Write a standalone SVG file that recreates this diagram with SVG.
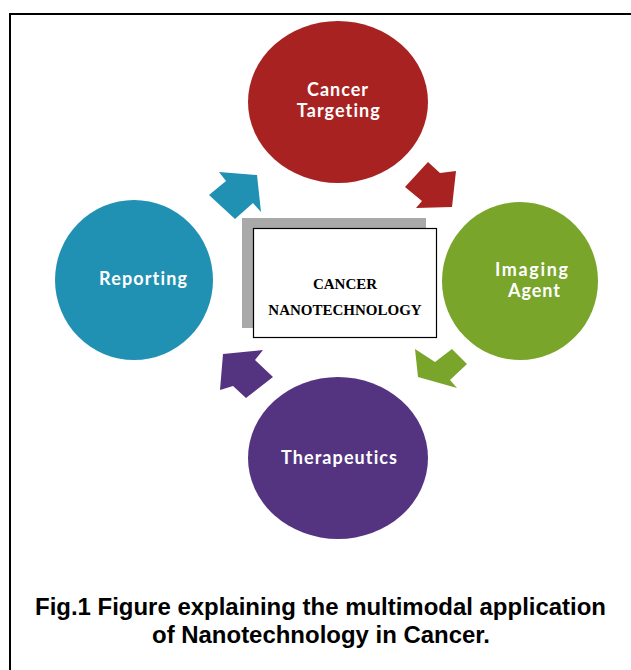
<svg xmlns="http://www.w3.org/2000/svg" width="631" height="670" viewBox="0 0 631 670">
<style>
.lbl{font-family:Lato,"Open Sans","Liberation Sans",sans-serif;font-weight:bold;font-size:18px;fill:#ffffff;text-anchor:middle;font-variant-ligatures:none;font-feature-settings:"liga" 0}
.ctr{font-family:"Liberation Serif","Times New Roman",serif;font-weight:bold;font-size:15px;fill:#000000;text-anchor:middle}
.cap{font-family:"Liberation Sans",Arial,sans-serif;font-weight:bold;font-size:23px;fill:#000000;text-anchor:middle}
</style>
<rect x="0" y="0" width="631" height="670" fill="#ffffff"/>
<rect id="frame" x="10" y="14" width="640" height="700" fill="none" stroke="#000000" stroke-width="2"/>
<g id="connectors">
  <polygon fill="#2191B3" points="219,172 257,175 261,212 253,203 235,219 209,195 226,181"/>
  <polygon fill="#A82222" points="428,162 440,173 456,171 452,207 416,208 422,201 405,187"/>
  <polygon fill="#79A52B" points="415,349 435,362 452,349 467,364 450,380 457,388 418,377"/>
  <polygon fill="#543480" points="223,354 263,350 255,360 273,377 246,398 233,386 220,390"/>
</g>
<g id="center">
  <rect x="242" y="218" width="184" height="110" fill="#A9A9A9"/>
  <rect x="253.5" y="228.5" width="183" height="109" fill="#ffffff" stroke="#000000" stroke-width="1.2"/>
  <text class="ctr" x="345" y="289">CANCER</text>
  <text class="ctr" x="345" y="315">NANOTECHNOLOGY</text>
</g>
<g id="cancer-targeting">
  <ellipse cx="338" cy="102" rx="90" ry="81" fill="#A82222"/>
  <text class="lbl" x="337.5" y="96" textLength="61" lengthAdjust="spacing">Cancer</text>
  <text class="lbl" x="338.3" y="116.5" textLength="83" lengthAdjust="spacing">Targeting</text>
</g>
<g id="imaging-agent">
  <ellipse cx="520" cy="281" rx="78" ry="79" fill="#79A52B"/>
  <text class="lbl" x="531.5" y="276" textLength="73" lengthAdjust="spacing">Imaging</text>
  <text class="lbl" x="534" y="297" textLength="52" lengthAdjust="spacing">Agent</text>
</g>
<g id="therapeutics">
  <ellipse cx="338" cy="458" rx="90" ry="81" fill="#543480"/>
  <text class="lbl" x="339" y="464" textLength="116" lengthAdjust="spacing">Therapeutics</text>
</g>
<g id="reporting">
  <ellipse cx="134" cy="280" rx="79" ry="80" fill="#2191B3"/>
  <text class="lbl" x="143" y="285" textLength="88" lengthAdjust="spacing">Reporting</text>
</g>
<g id="caption">
  <text class="cap" x="320.5" y="615" textLength="571" lengthAdjust="spacingAndGlyphs">Fig.1 Figure explaining the multimodal application</text>
  <text class="cap" x="321" y="643" textLength="338" lengthAdjust="spacingAndGlyphs">of Nanotechnology in Cancer.</text>
</g>
</svg>
